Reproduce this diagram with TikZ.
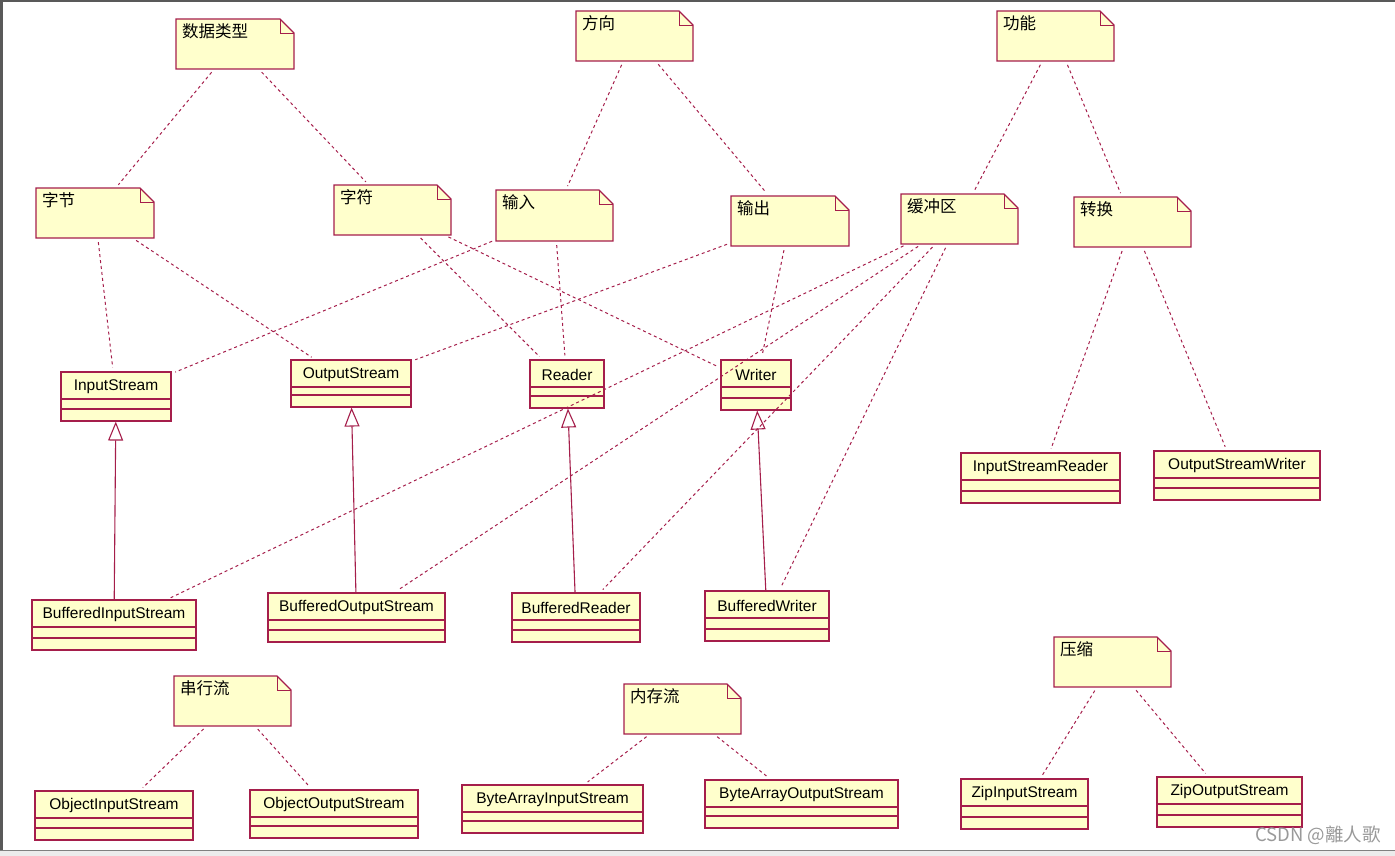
\documentclass[tikz,border=0pt]{standalone}
\usepackage{fontspec}
\setmainfont{Liberation Sans}
\newfontfamily\cjk{Noto Sans CJK SC}
\usetikzlibrary{arrows.meta,fit,calc}
\definecolor{umlred}{RGB}{165,30,75}
\definecolor{umlfill}{RGB}{255,255,204}
\begin{document}
\begin{tikzpicture}[x=1pt,y=-1pt,
    umlline/.style={draw=umlred,line width=1.1pt},
    depline/.style={umlred,line width=1pt,dash pattern=on 3pt off 3pt,shorten <=4pt,shorten >=4pt},
    inhline/.style={umlred,line width=1.1pt,-{Triangle[open,length=19pt,width=15pt]}},
    classtext/.style={font=\fontsize{15.5}{17}\selectfont,inner sep=0pt},
    notetext/.style={font=\cjk\fontsize{16.5}{18}\selectfont,inner sep=0pt,anchor=west}]
    \useasboundingbox (0,0) rectangle (1395,856);
    % Khung cửa sổ
    \fill[gray!15] (0,850) rectangle (1395,856);
    \draw[gray,line width=1pt] (0,850.5) -- (1395,850.5);
    \draw[gray!70!black,line width=2.5pt] (0,1.2) -- (1395,1.2);
    \draw[gray!70!black,line width=3pt] (1.5,0) -- (1.5,850);

    % Các ghi chú
    \foreach \n/\xa/\ya/\xb/\yb/\t in {
        nType/176/19/294/69/数据类型, nDir/576/11/693/61/方向, nFunc/997/11/1114/61/功能,
        nByte/36/188/154/238/字节, nChar/334/185/451/235/字符, nIn/496/190/613/241/输入,
        nOut/731/196/849/246/输出, nBuf/901/194/1018/244/缓冲区, nConv/1074/197/1191/247/转换,
        nSer/174/676/291/726/串行流, nMem/624/684/741/734/内存流, nZip/1054/637/1171/687/压缩}
    {
        \coordinate (\n-a) at (\xa,\ya);
        \coordinate (\n-b) at (\xb,\yb);
        \filldraw[umlline,fill=umlfill] (\xa,\ya) -- (\xb-14,\ya) -- (\xb,\ya+14)
            -- (\xb,\yb) -- (\xa,\yb) -- cycle;
        \draw[umlline,line width=0.8pt] (\xb-14,\ya) -- (\xb-14,\ya+14) -- (\xb,\ya+14);
        \node[fit=(\n-a)(\n-b),inner sep=0pt] (\n) {};
        \node[notetext] at (\xa+6,\ya+12) {\t};
    }

    % Các lớp
    \foreach \n/\xa/\ya/\xb/\yb/\t in {
        IS/61/372/171/421/InputStream, OS/291/360/411/407/OutputStream,
        R/530/360/604/408/Reader, W/721/360/791/410/Writer,
        ISR/961/453/1120/503/InputStreamReader, OSW/1154/451/1320/500/OutputStreamWriter,
        BIS/32/600/196/650/BufferedInputStream, BOS/268/593/445/642/BufferedOutputStream,
        BR/512/593/640/642/BufferedReader, BW/705/591/829/641/BufferedWriter,
        OIS/35/791/193/840/ObjectInputStream, OOS/250/790/418/838/ObjectOutputStream,
        BAIS/462/785/643/833/ByteArrayInputStream, BAOS/705/780/898/828/ByteArrayOutputStream,
        ZIS/961/779/1088/829/ZipInputStream, ZOS/1157/777/1302/827/ZipOutputStream}
    {
        \coordinate (\n-a) at (\xa,\ya);
        \coordinate (\n-b) at (\xb,\yb);
        \node[fit=(\n-a)(\n-b),inner sep=0pt,umlline,fill=umlfill] (\n) {};
        \draw[umlline] (\xa,\ya+27) -- (\xb,\ya+27);
        \draw[umlline] (\xa,\yb-12) -- (\xb,\yb-12);
        \node[classtext] at ({(\xa+\xb)/2},\ya+14.5) {\t};
    }

    % Đường phụ thuộc
    \foreach \a/\b in {nType/nByte, nType/nChar, nDir/nIn, nDir/nOut, nFunc/nBuf, nFunc/nConv,
        nByte/IS, nByte/OS, nChar/R, nChar/W, nIn/IS, nIn/R, nOut/OS, nOut/W,
        nBuf/BIS, nBuf/BOS, nBuf/BR, nBuf/BW, nConv/ISR, nConv/OSW,
        nSer/OIS, nSer/OOS, nMem/BAIS, nMem/BAOS, nZip/ZIS, nZip/ZOS}
    \draw[depline] (\a) -- (\b);

    % Kế thừa
    \foreach \a/\b in {BIS/IS, BOS/OS, BR/R, BW/W}
    \draw[inhline] (\a) -- (\b);

    \node[font=\cjk\fontsize{18.5}{20}\selectfont,text=gray!80,anchor=east,inner sep=0pt] (mark) at (1381,835) {CSDN @離人歌};
\end{tikzpicture}
\end{document}
